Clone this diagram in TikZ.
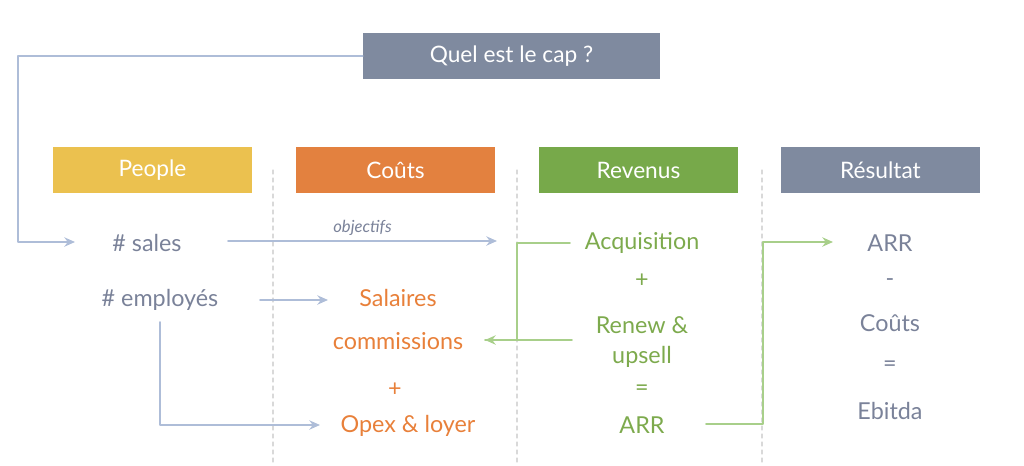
\documentclass[tikz,border=0pt]{standalone}
\usepackage{fontspec}
\setmainfont{Lato}
\usetikzlibrary{arrows.meta}
\definecolor{capgrey}{HTML}{7F8A9F}
\definecolor{ppyellow}{HTML}{EBC14F}
\definecolor{ctorange}{HTML}{E3813F}
\definecolor{rvgreen}{HTML}{77A94A}
\definecolor{txgrey}{HTML}{7A8299}
\definecolor{txorange}{HTML}{E8803A}
\definecolor{txgreen}{HTML}{7DAA4D}
\definecolor{arblue}{HTML}{AEBDD8}
\definecolor{argreen}{HTML}{A8CF8A}
\tikzset{
  head/.style={minimum width=149pt,minimum height=34.5pt,text=white,font=\fontsize{17}{20}\selectfont,inner sep=0pt},
  item/.style={font=\fontsize{17.5}{20}\selectfont,inner sep=1pt},
  bluearrow/.style={arblue,line width=1.3pt,-{Stealth[length=8pt,width=7pt]}},
  greenarrow/.style={argreen,line width=1.3pt,-{Stealth[length=8pt,width=7pt]}}
}
\begin{document}
\begin{tikzpicture}[x=0.75pt,y=-0.75pt,line cap=round,line join=round]
  \useasboundingbox (0,0) rectangle (1024,465);

  % boxes
  \node[head,fill=capgrey,minimum width=222.75pt] (cap) at (511.5,56) {Quel est le cap ?};
  \node[head,fill=ppyellow] (people) at (152.5,170) {People};
  \node[head,fill=ctorange] (couts) at (395.5,170) {Coûts};
  \node[head,fill=rvgreen] (revenus) at (638.5,170) {Revenus};
  \node[head,fill=capgrey] (resultat) at (880.5,170) {Résultat};

  % separators
  \foreach \x in {273,517,762}
    \draw[gray!30,dashed,line width=0.8pt] (\x,170) -- (\x,465);

  % people
  \node[item,text=txgrey] (sales) at (147,243) {\# sales};
  \node[item,text=txgrey] (employes) at (160,300) {\# employés};
  % couts
  \node[item,text=txorange] (salaires) at (398,298) {Salaires};
  \node[item,text=txorange] (commissions) at (398,341) {commissions};
  \node[item,text=txorange] (plus1) at (395,390) {+};
  \node[item,text=txorange] (opex) at (408,426) {Opex \& loyer};
  % revenus
  \node[item,text=txgreen] (acquisition) at (642,243) {Acquisition};
  \node[item,text=txgreen] (plus2) at (642,281) {+};
  \node[item,text=txgreen] (renew) at (642,325) {Renew \&};
  \node[item,text=txgreen] (upsell) at (642,357) {upsell};
  \node[item,text=txgreen] (eq1) at (642,390) {=};
  \node[item,text=txgreen] (arr) at (642,425) {ARR};
  % resultat
  \node[item,text=txgrey] (arrres) at (890,243) {ARR};
  \node[item,text=txgrey] (minus) at (890,283) {-};
  \node[item,text=txgrey] (coutsres) at (890,323) {Coûts};
  \node[item,text=txgrey] (eq2) at (890,366) {=};
  \node[item,text=txgrey] (ebitda) at (890,411) {Ebitda};

  % connectors
  \coordinate (salesin) at (75,242);
  \coordinate (objend) at (497,241);
  \coordinate (salin) at (328,300);
  \coordinate (opexin) at (320,425);
  \coordinate (salend) at (485,340);
  \coordinate (arrin) at (833,242);
  \draw[bluearrow] (cap.west) -- (18,56) -- (18,242) -- (salesin);
  \draw[bluearrow] (228,241) -- node[above,text=txgrey,font=\itshape\fontsize{12.5}{14}\selectfont] {objectifs} (objend);
  \draw[bluearrow] (260,300) -- (salin);
  \draw[bluearrow] (160,322) -- (160,425) -- (opexin);
  \draw[greenarrow] (570,243) -- (517,243) -- (517,340) -- (salend);
  \draw[argreen,line width=1.3pt] (572,340) -- (salend);
  \draw[greenarrow] (706,424) -- (763,424) -- (763,242) -- (arrin);
\end{tikzpicture}
\end{document}
